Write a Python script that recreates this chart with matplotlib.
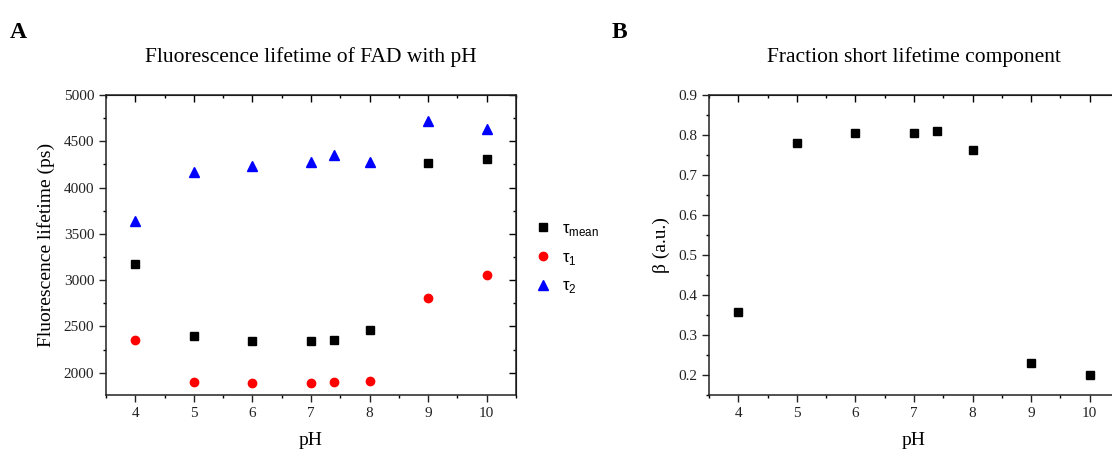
import matplotlib
matplotlib.use("Agg")
import matplotlib.pyplot as plt
from matplotlib.ticker import MultipleLocator

# ---- data ----
ph = [4, 5, 6, 7, 7.4, 8, 9, 10]
tau_mean = [3177, 2397, 2339, 2346, 2357, 2465, 4270, 4310]
tau_1 = [2357, 1901, 1890, 1890, 1896, 1907, 2803, 3058]
tau_2 = [3644, 4169, 4231, 4274, 4353, 4277, 4720, 4633]
beta = [0.357, 0.779, 0.805, 0.806, 0.810, 0.762, 0.229, 0.200]

title_a = "Fluorescence lifetime of FAD with pH"
title_b = "Fraction short lifetime component"
xlabel = "pH"
ylabel_a = "Fluorescence lifetime (ps)"
ylabel_b = "β (a.u.)"
legend_labels = [r"τ$_{\mathregular{mean}}$", r"τ$_{\mathregular{1}}$", r"τ$_{\mathregular{2}}$"]

plt.rcParams["font.family"] = ["Liberation Serif", "DejaVu Serif"]
plt.rcParams["mathtext.fontset"] = "dejavusans"

W, H = 1112, 453
fig = plt.figure(figsize=(W / 100, H / 100), dpi=100)


def box(l, t, r, b):
    return [l / W, 1 - b / H, (r - l) / W, (b - t) / H]


def style(ax, ymajor, yminor):
    ax.set_xlim(3.5, 10.5)
    ax.xaxis.set_major_locator(MultipleLocator(1))
    ax.xaxis.set_minor_locator(MultipleLocator(0.5))
    ax.yaxis.set_major_locator(MultipleLocator(ymajor))
    ax.yaxis.set_minor_locator(MultipleLocator(yminor))
    ax.tick_params(which="major", direction="out", length=5, width=1.0,
                   labelsize=11, colors="#222222")
    ax.tick_params(which="minor", direction="out", length=2.5, width=1.0)
    for s in ax.spines.values():
        s.set_linewidth(1.1)
        s.set_color("#222222")
    top = ax.secondary_xaxis("top")
    top.xaxis.set_major_locator(MultipleLocator(1))
    top.xaxis.set_minor_locator(MultipleLocator(0.5))
    top.tick_params(which="major", direction="in", length=5, width=1.0, labeltop=False)
    top.tick_params(which="minor", direction="in", length=2.5, width=1.0)
    right = ax.secondary_yaxis("right")
    right.yaxis.set_major_locator(MultipleLocator(ymajor))
    right.yaxis.set_minor_locator(MultipleLocator(yminor))
    right.tick_params(which="major", direction="in", length=5, width=1.0, labelright=False)
    right.tick_params(which="minor", direction="in", length=2.5, width=1.0)
    ax.set_xlabel(xlabel, fontsize=14, labelpad=9)


# ---- panel A ----
axA = fig.add_axes(box(106, 95, 516, 395))
hm, = axA.plot(ph, tau_mean, ls="none", marker="s", ms=5.5, color="black")
h1, = axA.plot(ph, tau_1, ls="none", marker="o", ms=6, color="#ff0000")
h2, = axA.plot(ph, tau_2, ls="none", marker="^", ms=6.5, color="#0000ff")
axA.set_ylim(1760, 5000)
style(axA, 500, 250)
axA.set_ylabel(ylabel_a, fontsize=14, labelpad=6)
axA.set_title(title_a, fontsize=15.5, pad=24)
fig.legend([hm, h1, h2], legend_labels, loc="upper left",
           bbox_to_anchor=(520 / W, 1 - 206 / H), frameon=False,
           prop={"family": ["Liberation Sans", "DejaVu Sans"], "size": 12},
           handlelength=1.0, handletextpad=0.6, labelspacing=0.7)

# ---- panel B ----
axB = fig.add_axes(box(709, 95, 1119, 395))
axB.plot(ph, beta, ls="none", marker="s", ms=5.5, color="black")
axB.set_ylim(0.15, 0.9)
style(axB, 0.1, 0.05)
axB.set_ylabel(ylabel_b, fontsize=14, labelpad=6)
axB.set_title(title_b, fontsize=15.5, pad=24)

fig.text(10 / W, 1 - 38 / H, "A", fontsize=17, fontweight="bold", ha="left", va="baseline")
fig.text(612 / W, 1 - 38 / H, "B", fontsize=17, fontweight="bold", ha="left", va="baseline")

fig.savefig("out.png", dpi=100)
